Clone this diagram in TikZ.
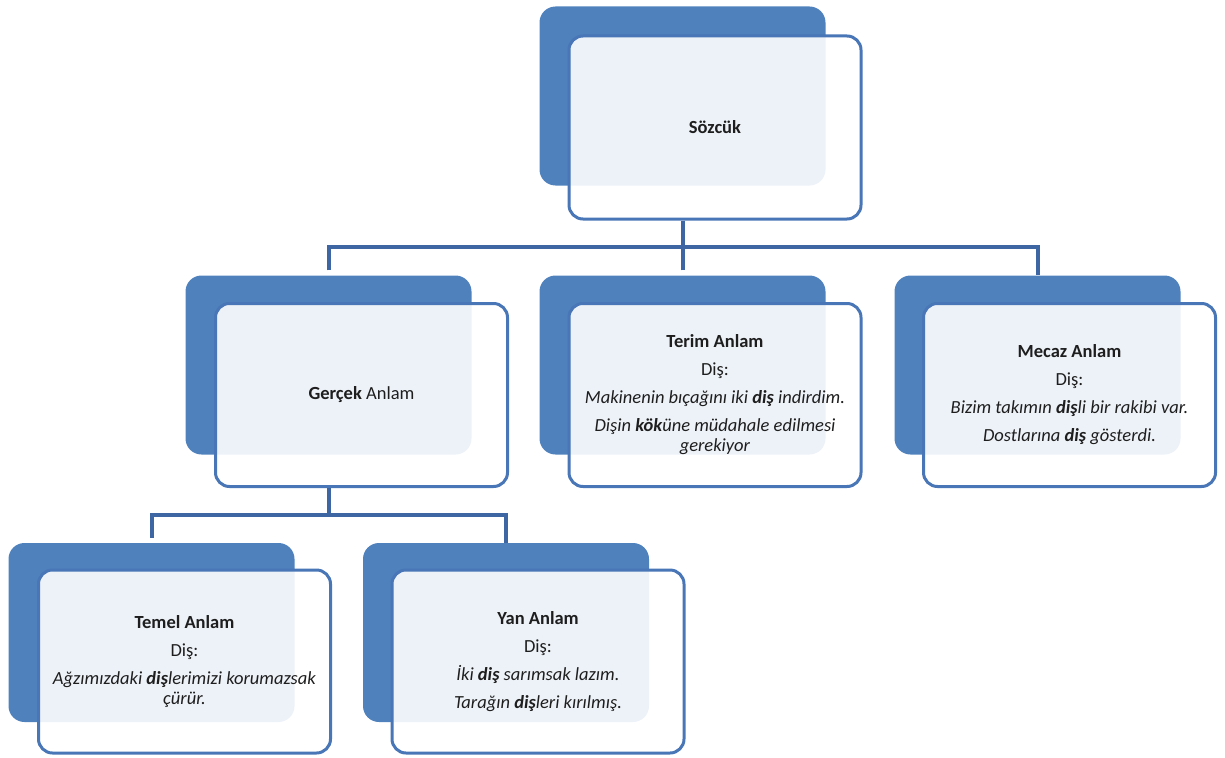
\documentclass[tikz,border=0pt]{standalone}
\usepackage{fontspec}
\setmainfont{Carlito}
\definecolor{boxblue}{RGB}{79,129,189}
\definecolor{edgeblue}{RGB}{72,118,182}
\definecolor{linkblue}{RGB}{62,102,162}
\definecolor{textdark}{RGB}{30,30,30}
\tikzset{
  backbox/.style={fill=boxblue, rounded corners=16pt, minimum width=286pt, minimum height=179pt, inner sep=0pt},
  frontbox/.style={fill=white, fill opacity=0.9, text opacity=1, draw=edgeblue, line width=3pt,
    rounded corners=14pt, minimum width=292pt, minimum height=183pt, inner sep=0pt,
    align=center, text=textdark, font=\fontsize{18.5}{20}\selectfont},
  conn/.style={draw=linkblue, line width=4pt}
}
\newcommand{\gap}{\\[8pt]}
\begin{document}
\begin{tikzpicture}[x=1pt,y=-1pt]
\useasboundingbox (0,0) rectangle (1225,757);
% level 1
\node[backbox] (sB) at (682.5,96) {};
\node[frontbox] (s) at (715,127.5) {\textbf{Sözcük}};
% level 2
\node[backbox] (gB) at (328.5,365) {};
\node[frontbox] (g) at (361.5,395) {\textbf{Gerçek} Anlam};
\node[backbox] (tB) at (682.5,365) {};
\node[frontbox] (t) at (715,395) {\textbf{Terim Anlam}\gap Diş:\gap
  \textit{Makinenin bıçağını iki \textbf{diş} indirdim.}\gap
  \textit{Dişin \textbf{kök}üne müdahale edilmesi}\\ \textit{gerekiyor}};
\node[backbox] (mB) at (1037.5,365) {};
\node[frontbox] (m) at (1069.5,395) {\textbf{Mecaz Anlam}\gap Diş:\gap
  \textit{Bizim takımın \textbf{diş}li bir rakibi var.}\gap
  \textit{Dostlarına \textbf{diş} gösterdi.}};
% level 3
\node[backbox] (eB) at (151.5,632.5) {};
\node[frontbox] (e) at (184.5,661.5) {\textbf{Temel Anlam}\gap Diş:\gap
  \textit{Ağzımızdaki \textbf{diş}lerimizi korumazsak}\\ \textit{çürür.}};
\node[backbox] (yB) at (506,632.5) {};
\node[frontbox] (y) at (538,661.5) {\textbf{Yan Anlam}\gap Diş:\gap
  \textit{İki \textbf{diş} sarımsak lazım.}\gap
  \textit{Tarağın \textbf{diş}leri kırılmış.}};
% connectors level 1 -> 2
\draw[conn] (s.south -| sB.south) -- ++(0,26) coordinate (j1);
\draw[conn, shorten <=5pt] (gB.north) -- (gB.north |- j1) -- (mB.north |- j1) -- (mB.north);
\draw[conn, shorten <=5pt] (tB.north) -- (tB.north |- j1);
% connectors level 2 -> 3
\draw[conn] (g.south -| gB.south) -- ++(0,27) coordinate (j2);
\draw[conn, shorten <=5pt] (eB.north) -- (eB.north |- j2) -- (yB.north |- j2) -- (yB.north);
\end{tikzpicture}
\end{document}
